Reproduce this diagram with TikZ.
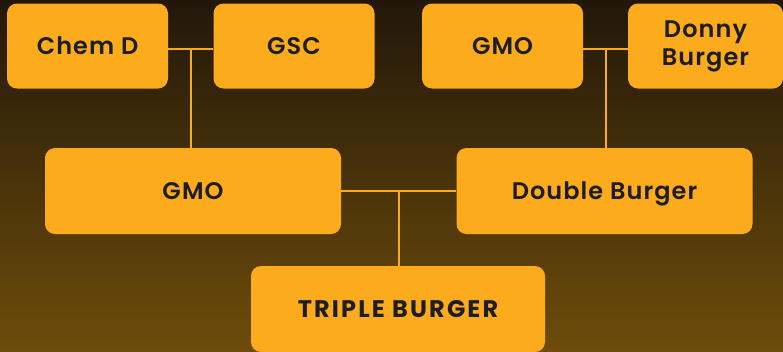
\documentclass[tikz,border=0pt]{standalone}
\usepackage{fontspec}
\setmainfont{Poppins}
\newfontface\cardfont{Poppins SemiBold}[LetterSpace=4.5]
\newfontface\cardboldfont{Poppins Bold}[LetterSpace=9]
\usetikzlibrary{calc,positioning}

\definecolor{cardorange}{HTML}{FBAB1C}
\definecolor{cardtext}{HTML}{1F1D24}
\definecolor{bgtop}{HTML}{22170A}
\definecolor{bgbottom}{HTML}{6E4D0B}

\begin{document}
\begin{tikzpicture}[x=1pt,y=-1pt,
  card/.style={fill=cardorange, rounded corners=10pt, text=cardtext,
    inner sep=0pt, align=center, font=\fontsize{24}{28}\selectfont\cardfont},
  oneline/.style={text height=17pt, text depth=0pt},
  smallcard/.style={card, minimum width=161pt, minimum height=85pt},
  widecard/.style={card, oneline, minimum width=296pt, minimum height=86pt},
  link/.style={draw=cardorange, line width=2pt}]
\useasboundingbox (0,0) rectangle (783,351);
\fill[top color=bgtop, bottom color=bgbottom] (0,0) rectangle (783,351);

% parents, top row
\node[smallcard, oneline] (chemd) at (87.5,46) {Chem D};
\node[smallcard, oneline] (gsc) at (294,46) {GSC};
\node[smallcard, oneline] (gmotop) at (502.5,46) {GMO};
\node[smallcard, minimum width=155pt] (donny) at (705.5,46) {Donny\\Burger};

% second row
\node[widecard] (gmo) at (193,191) {GMO};
\node[widecard] (double) at (604.5,191) {Double Burger};

% result
\node[widecard, minimum width=294pt,
  font=\fontsize{24}{28}\selectfont\cardboldfont] (triple) at (398,309) {TRIPLE BURGER};

\coordinate (lefttee) at ($([yshift=-3pt]chemd.east)!0.5!([yshift=-3pt]gsc.west)$);
\coordinate (righttee) at ($([yshift=-3pt]gmotop.east)!0.5!([yshift=-3pt]donny.west)$);
\coordinate (midtee) at ($(gmo.east)!0.5!(double.west)$);

\draw[link] ([yshift=-3pt]chemd.east) -- ([yshift=-3pt]gsc.west);
\draw[link] (lefttee) -- (lefttee |- gmo.north);
\draw[link] ([yshift=-3pt]gmotop.east) -- ([yshift=-3pt]donny.west);
\draw[link] (righttee) -- (righttee |- double.north);
\draw[link] (gmo.east) -- (double.west);
\draw[link] (midtee) -- (midtee |- triple.north);
\end{tikzpicture}
\end{document}
